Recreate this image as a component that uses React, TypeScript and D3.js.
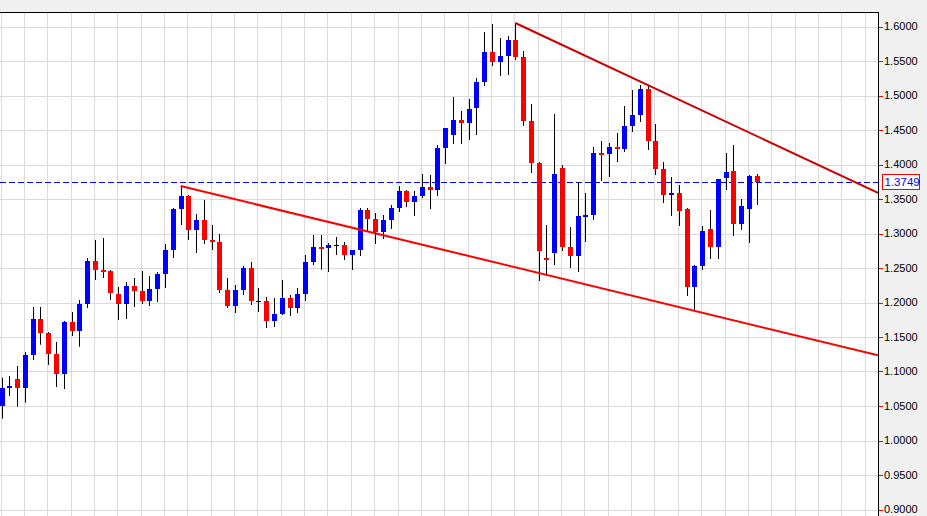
import React from "react";
import * as d3 from "d3";

// ---- Data ----
const opens = [
  1.0500, 1.0761, 1.0891, 1.0761, 1.1239, 1.1761, 1.1558, 1.1258, 1.0968, 1.1717,
  1.1587, 1.1978, 1.2601, 1.2475, 1.2457, 1.2123, 1.1978, 1.2239, 1.2167, 1.2022,
  1.2196, 1.2413, 1.2761, 1.3355, 1.3543, 1.3051, 1.3196, 1.2906, 1.2877, 1.2181,
  1.1949, 1.2181, 1.2500, 1.2022, 1.2022, 1.1732, 1.1833, 1.2065, 1.1920, 1.2123,
  1.2587, 1.2804, 1.2790, 1.2833, 1.2833, 1.2688, 1.2761, 1.3341, 1.3210, 1.3022,
  1.3196, 1.3370, 1.3616, 1.3457, 1.3543, 1.3674, 1.3630, 1.4239, 1.4428, 1.4645,
  1.4601, 1.4819, 1.5196, 1.5630, 1.5486, 1.5572, 1.5804, 1.5558, 1.4630, 1.4022,
  1.2645, 1.2717, 1.3949, 1.2804, 1.2674, 1.3254, 1.3268, 1.4167, 1.4152, 1.4254,
  1.4225, 1.4558, 1.4717, 1.5094, 1.4341, 1.3935, 1.3558, 1.3587, 1.3355, 1.2225,
  1.2529, 1.3065, 1.2804, 1.3804, 1.3906, 1.3138, 1.3355, 1.3833,
];
const highs = [
  1.0910, 1.0935, 1.1080, 1.1283, 1.1935, 1.1935, 1.1572, 1.1428, 1.1732, 1.1862,
  1.2036, 1.2645, 1.2906, 1.2935, 1.2471, 1.2225, 1.2297, 1.2355, 1.2457, 1.2384,
  1.2442, 1.2848, 1.3370, 1.3688, 1.3558, 1.3283, 1.3486, 1.3123, 1.2993, 1.2355,
  1.2254, 1.2529, 1.2587, 1.2210, 1.2080, 1.2065, 1.2326, 1.2109, 1.2210, 1.2688,
  1.2978, 1.2978, 1.2862, 1.2949, 1.2877, 1.2761, 1.3370, 1.3370, 1.3297, 1.3268,
  1.3413, 1.3688, 1.3630, 1.3616, 1.3862, 1.3848, 1.4283, 1.4529, 1.4978, 1.4775,
  1.4949, 1.5254, 1.5920, 1.6036, 1.5833, 1.5862, 1.6051, 1.5645, 1.4877, 1.4036,
  1.3123, 1.4732, 1.3993, 1.3094, 1.3746, 1.3587, 1.4254, 1.4341, 1.4312, 1.4457,
  1.4848, 1.5080, 1.5152, 1.5138, 1.4587, 1.4036, 1.3819, 1.3703, 1.3370, 1.2543,
  1.3109, 1.3341, 1.3790, 1.4167, 1.4283, 1.3500, 1.3848, 1.3862,
];
const lows = [
  1.0316, 1.0645, 1.0490, 1.0548, 1.1167, 1.1388, 1.1094, 1.0775, 1.0746, 1.1514,
  1.1359, 1.1920, 1.2326, 1.2355, 1.2036, 1.1746, 1.1761, 1.1935, 1.1978, 1.1949,
  1.2007, 1.2210, 1.2645, 1.3123, 1.2906, 1.2717, 1.2848, 1.2761, 1.2138, 1.1920,
  1.1848, 1.2109, 1.1964, 1.1862, 1.1630, 1.1645, 1.1819, 1.1804, 1.1848, 1.2022,
  1.2543, 1.2475, 1.2442, 1.2688, 1.2616, 1.2471, 1.2674, 1.3036, 1.2848, 1.2920,
  1.3065, 1.3312, 1.3384, 1.3254, 1.3514, 1.3355, 1.3543, 1.4007, 1.4297, 1.4297,
  1.4355, 1.4428, 1.5138, 1.5428, 1.5283, 1.5297, 1.5514, 1.4558, 1.3877, 1.2312,
  1.2384, 1.2543, 1.2746, 1.2500, 1.2442, 1.2877, 1.3196, 1.3761, 1.3819, 1.4036,
  1.4181, 1.4471, 1.4616, 1.4210, 1.3848, 1.3442, 1.3254, 1.3109, 1.2094, 1.1891,
  1.2471, 1.2630, 1.2630, 1.3630, 1.2964, 1.3051, 1.2862, 1.3413,
];
const closes = [
  1.0761, 1.0790, 1.0761, 1.1239, 1.1761, 1.1558, 1.1258, 1.0968, 1.1717, 1.1587,
  1.1978, 1.2601, 1.2475, 1.2464, 1.2138, 1.1978, 1.2239, 1.2167, 1.2022, 1.2196,
  1.2413, 1.2761, 1.3355, 1.3543, 1.3051, 1.3196, 1.2906, 1.2877, 1.2181, 1.1949,
  1.2181, 1.2500, 1.2022, 1.2022, 1.1732, 1.1833, 1.2065, 1.1920, 1.2123, 1.2587,
  1.2804, 1.2797, 1.2833, 1.2833, 1.2688, 1.2761, 1.3341, 1.3210, 1.3022, 1.3196,
  1.3370, 1.3616, 1.3457, 1.3543, 1.3674, 1.3630, 1.4239, 1.4529, 1.4645, 1.4601,
  1.4804, 1.5196, 1.5630, 1.5486, 1.5572, 1.5804, 1.5558, 1.4630, 1.4022, 1.2746,
  1.2616, 1.3862, 1.2804, 1.2674, 1.3254, 1.3268, 1.4167, 1.4152, 1.4254, 1.4225,
  1.4558, 1.4717, 1.5094, 1.4341, 1.3935, 1.3558, 1.3587, 1.3326, 1.2225, 1.2529,
  1.3036, 1.2804, 1.3790, 1.3891, 1.3138, 1.3399, 1.3833, 1.3749,
];
const tickValues = [0.9, 0.95, 1.0, 1.05, 1.1, 1.15, 1.2, 1.25, 1.3, 1.35, 1.4, 1.45, 1.5, 1.55, 1.6];
const tickLabels = ["0.9000", "0.9500", "1.0000", "1.0500", "1.1000", "1.1500", "1.2000", "1.2500", "1.3000", "1.3500", "1.4000", "1.4500", "1.5000", "1.5500", "1.6000"];
// trend lines: two anchors each (candle index, price), extended to the right edge
const upperTrendIdx = [66, 83];
const upperTrendPrice = [1.6051, 1.5152];
const lowerTrendIdx = [23, 89];
const lowerTrendPrice = [1.3688, 1.1880];
const lastPrice = 1.3749;
const lastLabel = "1.3749";

const W = 927;
const H = 516;
const PLOT_RIGHT = 878;
const PLOT_TOP = 12;

export default function App() {
  const x = d3.scaleLinear().domain([0, 97]).range([1.5, 756.7]);
  const y = d3.scaleLinear().domain([0.9, 1.6]).range([509.5, 26.5]);
  const maxIdx = Math.floor(x.invert(PLOT_RIGHT));
  const vGrid = d3.range(0, maxIdx + 1, 3);
  const edgeIdx = x.invert(PLOT_RIGHT);

  const trend = (idx: number[], pr: number[]) => {
    const slope = (pr[1] - pr[0]) / (idx[1] - idx[0]);
    const endP = pr[0] + slope * (edgeIdx - idx[0]);
    const line = d3.line<[number, number]>().x((d) => x(d[0])).y((d) => y(d[1]));
    return line([[idx[0], pr[0]], [edgeIdx, endP]]) || "";
  };

  const gridColor = "#dadada";
  const font = "Arial, 'Liberation Sans', sans-serif";
  const lastY = Math.round(y(lastPrice)) + 0.5;

  return (
    <svg width={W} height={H} style={{ position: "absolute", left: 0, top: 0, display: "block" }}>
      <defs>
        <clipPath id="plotclip">
          <rect x={0} y={PLOT_TOP} width={PLOT_RIGHT} height={H - PLOT_TOP} />
        </clipPath>
      </defs>
      <rect x={0} y={0} width={W} height={H} fill="#f0f0f0" />
      <rect x={0} y={PLOT_TOP} width={PLOT_RIGHT} height={H - PLOT_TOP} fill="#ffffff" />
      <g clipPath="url(#plotclip)">
        {tickValues.map((t) => (
          <line key={"h" + t} x1={0} x2={PLOT_RIGHT} y1={Math.round(y(t)) + 0.5} y2={Math.round(y(t)) + 0.5} stroke={gridColor} strokeWidth={1} />
        ))}
        {vGrid.map((i) => (
          <line key={"v" + i} x1={Math.round(x(i)) - 0.5} x2={Math.round(x(i)) - 0.5} y1={PLOT_TOP} y2={H} stroke={gridColor} strokeWidth={1} />
        ))}
        <line x1={0} x2={PLOT_RIGHT} y1={lastY} y2={lastY} stroke="#0000ff" strokeWidth={1} strokeDasharray="6,3" />
        {opens.map((o, i) => {
          const c = closes[i];
          const cx = Math.round(x(i));
          const top = Math.min(y(o), y(c));
          const bot = Math.max(y(o), y(c));
          const up = c > o;
          const flat = Math.abs(c - o) < 1e-9;
          const h = Math.max(1, Math.round(bot - top));
          return (
            <g key={"c" + i}>
              <line x1={cx + 0.5} x2={cx + 0.5} y1={y(highs[i])} y2={y(lows[i])} stroke="#000" strokeWidth={1} />
              {flat ? (
                <rect x={cx - 2} y={Math.round(top)} width={5} height={1} fill="#000" />
              ) : (
                <rect x={cx - 2} y={Math.round(top)} width={5} height={h + (h < 2 ? 1 : 0)} fill={up ? "#0000ff" : "#ff0000"} />
              )}
            </g>
          );
        })}
        <path d={trend(lowerTrendIdx, lowerTrendPrice)} stroke="#ff0000" strokeWidth={2} fill="none" />
        <path d={trend(upperTrendIdx, upperTrendPrice)} stroke="#cc0000" strokeWidth={2} fill="none" />
      </g>
      <line x1={0} x2={PLOT_RIGHT + 0.5} y1={PLOT_TOP + 0.5} y2={PLOT_TOP + 0.5} stroke="#000" strokeWidth={1} />
      <line x1={PLOT_RIGHT + 0.5} x2={PLOT_RIGHT + 0.5} y1={PLOT_TOP} y2={H} stroke="#000" strokeWidth={1} />
      {tickValues.map((t, k) => (
        <g key={"t" + t}>
          <line x1={PLOT_RIGHT + 1} x2={PLOT_RIGHT + 5} y1={Math.round(y(t)) + 0.5} y2={Math.round(y(t)) + 0.5} stroke="#ff0000" strokeWidth={1} />
          <text x={PLOT_RIGHT + 6} y={y(t)} dy="0.36em" fontSize={11} fontFamily={font} fill="#000">
            {tickLabels[k]}
          </text>
        </g>
      ))}
      <rect x={PLOT_RIGHT + 4.5} y={lastY - 8} width={37} height={15} fill="#ffffff" stroke="#ff0000" strokeWidth={1} />
      <text x={PLOT_RIGHT + 6.5} y={lastY - 0.5} dy="0.36em" fontSize={11.5} fontFamily={font} fill="#0000ff">
        {lastLabel}
      </text>
    </svg>
  );
}
